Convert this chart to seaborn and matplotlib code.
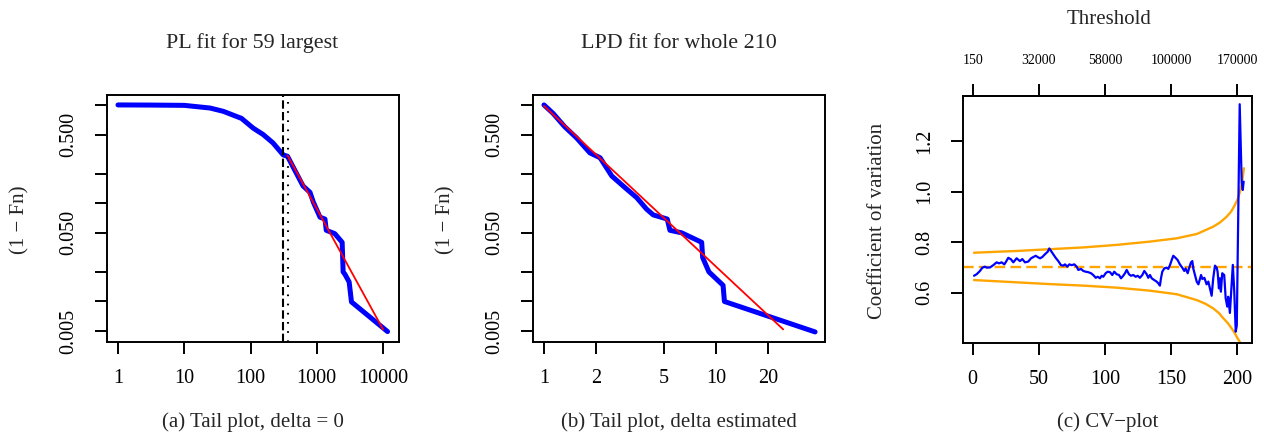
import matplotlib
matplotlib.use("Agg")
import matplotlib.pyplot as plt
import seaborn as sns
import numpy as np

# ---------------- data ----------------
# (a) tail plot, delta = 0
a_x = [1, 3, 10, 24.5, 39, 73, 110, 155, 219, 311, 362, 620, 790, 890, 1120, 1330,
       1390, 1870, 2415, 2500, 2650, 3080, 3340, 11700]
a_y = [1.0, 0.997, 0.99, 0.93, 0.86, 0.73, 0.58, 0.50, 0.41, 0.31, 0.30, 0.15, 0.129,
       0.102, 0.072, 0.069, 0.053, 0.049, 0.040, 0.020, 0.019, 0.0158, 0.0099, 0.00494]
a_fit_x = [362, 10000]
a_fit_y = [0.305, 0.0052]
a_dash_x = 311
a_dot_x = 362

# (b) tail plot, delta estimated
b_x = [1, 1.13, 1.32, 1.55, 1.85, 2.12, 2.48, 2.96, 3.46, 3.95, 4.32, 5.21, 5.40,
       6.31, 8.26, 8.37, 9.1, 11.0, 11.2, 37.7]
b_y = [1.0, 0.82, 0.60, 0.46, 0.325, 0.29, 0.189, 0.144, 0.114, 0.087, 0.076, 0.069,
       0.053, 0.050, 0.040, 0.028, 0.020, 0.0146, 0.010, 0.0049]
b_fit_x = [1, 24.6]
b_fit_y = [0.977, 0.0052]

log_yticks = [1, 0.5, 0.2, 0.1, 0.05, 0.02, 0.01, 0.005]
log_ytick_labels = ["", "0.500", "", "", "0.050", "", "", "0.005"]
a_xticks = [1, 10, 100, 1000, 10000]
a_xtick_labels = ["1", "10", "100", "1000", "10000"]
b_xticks = [1, 2, 5, 10, 20]
b_xtick_labels = ["1", "2", "5", "10", "20"]

# (c) CV plot
cv_x = [1.0, 3.0, 5.5, 7.3, 9.3, 10.6, 13.1, 15.6, 18.1, 19.9, 21.9, 23.9, 24.9, 26.9,
        28.9, 30.7, 33.2, 35.7, 37.5, 39.5, 42.0, 44.1, 45.8, 47.6, 49.1, 50.9,
        52.6, 54.6, 56.7, 57.9, 59.2, 60.9, 62.7, 64.7, 66.7, 68.5, 69.8, 71.5, 73.0,
        74.8, 76.8, 78.6, 79.8, 81.8, 83.6, 85.4, 87.4, 89.4, 91.1, 93.0, 94.5, 96.2,
        97.5, 98.7, 100.5, 102.0, 103.8,
        105.5, 107.0, 108.8, 110.6, 112.1, 113.8, 115.1, 116.4, 118.1, 119.6, 121.4,
        123.2, 124.7, 126.4, 128.2, 129.7, 131.5, 132.7, 134.0, 135.3, 137.2, 139.0,
        140.3, 141.5, 142.3, 143.3, 144.8, 146.6, 147.8, 149.1, 150.4, 151.6, 152.9,
        154.9, 156.6, 158.4, 159.9, 160.9, 162.5, 163.5, 165.0, 166.0, 166.7, 168.0,
        169.3, 170.6, 171.9, 172.6, 173.6, 175.1, 176.8, 178.1, 179.3, 180.6, 181.8,
        183.1, 184.4, 185.1, 186.1, 186.9, 187.6, 188.6, 190.1, 191.2, 192.4, 193.1,
        194.4, 195.7, 196.6, 197.7, 198.8, 199.6, 201.8, 203.3, 204.1, 204.8]
cv_y = [0.667, 0.673, 0.686, 0.699, 0.703, 0.699, 0.700, 0.709, 0.720, 0.716, 0.720,
        0.712, 0.720, 0.738, 0.732, 0.720, 0.736, 0.725, 0.733, 0.720, 0.723, 0.736,
        0.741, 0.746, 0.741, 0.736,
        0.741, 0.752, 0.762, 0.775, 0.765, 0.752, 0.738, 0.725, 0.709, 0.707, 0.712,
        0.703, 0.712, 0.709, 0.712, 0.703, 0.690, 0.694, 0.686, 0.683, 0.681, 0.677,
        0.670, 0.659, 0.663, 0.657, 0.667, 0.663, 0.677, 0.683, 0.681,
        0.670, 0.683, 0.673, 0.670, 0.657, 0.667, 0.677, 0.690, 0.673, 0.667, 0.670,
        0.663, 0.667, 0.659, 0.670, 0.686, 0.673, 0.659, 0.670, 0.657, 0.650, 0.644,
        0.637, 0.628, 0.657, 0.683, 0.696, 0.699, 0.694, 0.709, 0.729, 0.746, 0.740,
        0.729, 0.712, 0.699, 0.686, 0.696, 0.677, 0.696, 0.720, 0.725, 0.696, 0.670,
        0.644, 0.633, 0.657, 0.670, 0.654, 0.659, 0.633, 0.644, 0.617, 0.588, 0.657,
        0.707, 0.699, 0.683, 0.617, 0.657, 0.604, 0.677, 0.670, 0.578, 0.545, 0.584,
        0.520, 0.633, 0.710, 0.604, 0.446, 0.470, 1.345, 1.039, 1.006, 1.039]
band_up_x = [1, 33.2, 58.4, 83.6, 108.8, 134, 154.2, 169.3, 181.8, 187.0, 191.9, 195.5,
             198.2, 200.3, 202, 203.6, 205]
band_up_y = [0.758, 0.765, 0.772, 0.779, 0.789, 0.802, 0.815, 0.832, 0.861, 0.878,
             0.900, 0.922, 0.947, 0.970, 0.999, 1.038, 1.092]
band_lo_x = [1, 33.2, 58.4, 83.6, 108.8, 134, 154.2, 169.3, 176.0, 181.8, 186.0, 189.4,
             192.8, 195.7, 197.8, 199.5, 201.0, 202]
band_lo_y = [0.650, 0.641, 0.634, 0.628, 0.620, 0.608, 0.594, 0.571, 0.556, 0.538,
             0.520, 0.499, 0.480, 0.459, 0.443, 0.426, 0.413, 0.404]
cv_ref = 0.703
c_xticks = [0, 50, 100, 150, 200]
c_xtick_labels = ["0", "50", "100", "150", "200"]
c_top_labels = ["150", "32000", "58000", "100000", "170000"]
c_yticks = [0.6, 0.8, 1.0, 1.2]
c_ytick_labels = ["0.6", "0.8", "1.0", "1.2"]

# ---------------- style ----------------
sns.set_theme(style="ticks")
plt.rcParams['font.family'] = ['Liberation Serif', 'DejaVu Serif']
plt.rcParams['axes.linewidth'] = 1.4
plt.rcParams['axes.edgecolor'] = 'black'

W, H = 1264, 433
fig = plt.figure(figsize=(W / 100, H / 100), dpi=100)


def add_axes(l, t, r, b):
    return fig.add_axes([l / W, 1 - b / H, (r - l) / W, (b - t) / H])


TICK_FS = 14.5
LAB_FS = 15
TITLE_FS = 15.8

ax_a = add_axes(107, 95, 399, 342)
ax_b = add_axes(533.3, 95, 825, 342)
ax_c = add_axes(963.3, 96, 1252, 342.7)

# panel (a)
sns.lineplot(x=a_x, y=a_y, ax=ax_a, estimator=None, sort=False, color='#0000FF',
             linewidth=3.6, solid_capstyle='round', solid_joinstyle='round')
ax_a.axvline(a_dash_x, color='black', linewidth=1.5, linestyle=(0, (4, 1.6)))
ax_a.axvline(a_dot_x, color='black', linewidth=1.5, linestyle=(0, (0.8, 3.6)))
sns.lineplot(x=a_fit_x, y=a_fit_y, ax=ax_a, estimator=None, sort=False,
             color='#FF0000', linewidth=1.3)
ax_a.set_xscale('log')
ax_a.set_yscale('log')
ax_a.set_xlim(10 ** -0.166, 10 ** 4.241)
ax_a.set_ylim(0.00387, 1.262)
ax_a.set_xticks(a_xticks, a_xtick_labels)

# panel (b)
sns.lineplot(x=b_x, y=b_y, ax=ax_b, estimator=None, sort=False, color='#0000FF',
             linewidth=3.6, solid_capstyle='round', solid_joinstyle='round')
sns.lineplot(x=b_fit_x, y=b_fit_y, ax=ax_b, estimator=None, sort=False,
             color='#FF0000', linewidth=1.3)
ax_b.set_xscale('log')
ax_b.set_yscale('log')
ax_b.set_xlim(10 ** -0.062, 10 ** 1.634)
ax_b.set_ylim(0.00387, 1.262)
ax_b.set_xticks(b_xticks, b_xtick_labels)

for ax in (ax_a, ax_b):
    ax.set_yticks(log_yticks, log_ytick_labels)
    ax.minorticks_off()
    for lab in ax.get_yticklabels():
        lab.set_rotation(90)
        lab.set_va('center')

# panel (c)
sns.lineplot(x=band_up_x, y=band_up_y, ax=ax_c, estimator=None, sort=False,
             color='#FFA500', linewidth=1.7)
sns.lineplot(x=band_lo_x, y=band_lo_y, ax=ax_c, estimator=None, sort=False,
             color='#FFA500', linewidth=1.7)
ax_c.axhline(cv_ref, color='#FFA500', linewidth=1.7, linestyle=(0, (4.5, 2.2)))
sns.lineplot(x=cv_x, y=cv_y, ax=ax_c, estimator=None, sort=False, color='#0000FF',
             linewidth=1.6)
ax_c.set_xlim(-7.1, 211.1)
ax_c.set_ylim(0.4024, 1.3775)
ax_c.set_xticks(c_xticks, c_xtick_labels)
ax_c.set_yticks(c_yticks, c_ytick_labels)
for lab in ax_c.get_yticklabels():
    lab.set_rotation(90)
    lab.set_va('center')
sec = ax_c.secondary_xaxis('top')
sec.set_xticks(c_xticks, c_top_labels)
sec.tick_params(axis='x', length=8.6, width=1.4, pad=12, labelsize=10, colors='black')
sec.spines['top'].set_linewidth(1.4)

for ax in (ax_a, ax_b, ax_c):
    for s in ax.spines.values():
        s.set_visible(True)
        s.set_color('black')
        s.set_linewidth(1.4)
    ax.tick_params(axis='both', which='major', length=8.6, width=1.4, color='black',
                   labelsize=TICK_FS, labelcolor='black')
    ax.tick_params(axis='x', pad=11)
    ax.tick_params(axis='y', pad=12)
    ax.set_xlabel('')
    ax.set_ylabel('')
    ax.grid(False)
    ax.set_facecolor('white')

# texts
def ftext(x, y, s, size=LAB_FS, **kw):
    fig.text(x / W, 1 - y / H, s, ha='center', va='center', fontsize=size, **kw)

ftext(252, 43, "PL fit for 59 largest", size=TITLE_FS)
ftext(679, 43, "LPD fit for whole 210", size=TITLE_FS)
ftext(1109, 19, "Threshold")
ftext(20, 220, "(1 \u2212 Fn)", rotation=90)
ftext(446, 220, "(1 \u2212 Fn)", rotation=90)
ftext(878, 221, "Coefficient of variation", rotation=90)
ftext(253, 422, "(a) Tail plot, delta = 0")
ftext(679, 422, "(b) Tail plot, delta estimated")
ftext(1107.6, 422, "(c) CV\u2212plot")

fig.savefig("out.png", dpi=100, facecolor='white')
